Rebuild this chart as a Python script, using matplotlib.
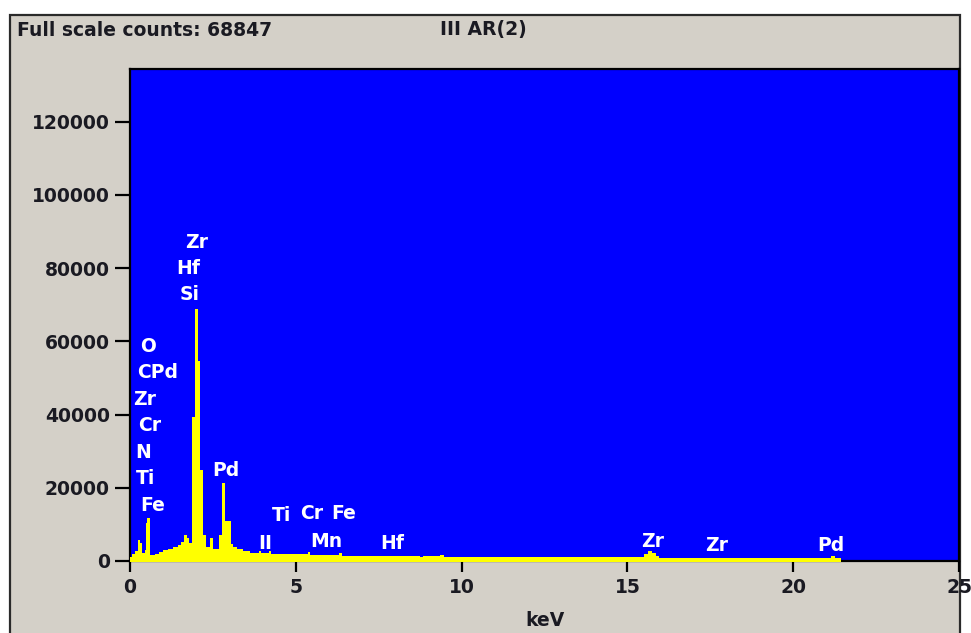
import matplotlib
matplotlib.use("Agg")
import matplotlib.pyplot as plt
from matplotlib.patches import Rectangle

kev = [0.00, 0.05, 0.15, 0.23, 0.30, 0.35, 0.45, 0.47, 0.50, 0.60,
       0.75, 0.88, 1.00, 1.15, 1.30, 1.45, 1.55, 1.64, 1.72, 1.78,
       1.88, 1.97, 2.04, 2.12, 2.20, 2.28, 2.42, 2.50, 2.68, 2.76,
       2.87, 3.05, 3.12, 3.22, 3.42, 3.62, 3.88, 3.94, 4.20, 4.26,
       4.45, 5.36, 5.44, 6.30, 6.38, 8.75, 8.85, 9.35, 9.48, 15.50,
       15.62, 15.75, 15.85, 15.95, 21.15, 21.25, 21.45]
counts = [1200, 2000, 2600, 5700, 4800, 2100, 3000, 10500, 11800, 1700,
          1900, 2400, 2900, 3300, 3700, 4400, 5300, 7000, 6200, 4800,
          39400, 68847, 54700, 24800, 7100, 3900, 6200, 3300, 7000, 21400,
          11000, 4600, 3900, 3200, 2600, 2300, 2800, 2100, 2700, 2000,
          1800, 2500, 1700, 2300, 1500, 1100, 1400, 1700, 1000, 1800,
          2600, 2300, 1500, 900, 1500, 900, 0]

# element labels (text, keV, counts)
labels = ["Zr", "Hf", "Si", "O", "CPd", "Zr", "Cr", "N", "Ti", "Fe",
          "Pd", "Ti", "Cr", "Fe", "II", "Mn", "Hf", "Zr", "Zr", "Pd"]
label_kev = [2.02, 1.75, 1.81, 0.54, 0.82, 0.45, 0.60, 0.39, 0.48, 0.69,
             2.90, 4.56, 5.47, 6.43, 4.08, 5.92, 7.90, 15.77, 17.70, 21.15]
label_cnt = [87100, 80000, 72900, 58600, 51500, 44100, 37000, 29600, 22500, 15100,
             24700, 12300, 12900, 12900, 4700, 5200, 4700, 5200, 4100, 4100]

xticks = [0, 5, 10, 15, 20, 25]
yticks = [0, 20000, 40000, 60000, 80000, 100000, 120000]

W, H = 971, 633
grey = "#d4d0c8"
ink = "#1a1a22"
plt.rcParams["font.family"] = "DejaVu Sans"
plt.rcParams["font.weight"] = "bold"

fig = plt.figure(figsize=(W / 100, H / 100), dpi=100, facecolor="white")
fig.patches.append(Rectangle((10 / W, -0.05), 950 / W, 1 - 15 / H + 0.05,
                             transform=fig.transFigure, facecolor=grey,
                             edgecolor="#2a2a2a", lw=1.6, zorder=-10))

ax = fig.add_axes([130 / W, 1 - 561 / H, (959 - 130) / W, (561 - 69) / H])
ax.set_facecolor("#0000ff")
ax.fill_between(kev, counts, y2=-250, step="post", color="#ffff00", lw=0,
                zorder=3, clip_on=False)

for t, x, y in zip(labels, label_kev, label_cnt):
    ax.text(x, y, t, color="white", fontsize=13.5, fontweight="bold",
            ha="center", va="center", zorder=4)

ax.set_xlim(0, 25)
ax.set_ylim(0, 134400)
ax.set_xticks(xticks)
ax.set_yticks(yticks)
ax.set_xticklabels([str(v) for v in xticks])
ax.set_yticklabels([str(v) for v in yticks])
ax.tick_params(axis="y", length=11, width=1.6, pad=3.5, labelsize=13.5,
               labelcolor=ink, color="black")
ax.tick_params(axis="x", length=8, width=1.6, pad=4, labelsize=13.5,
               labelcolor=ink, color="black")
for s in ax.spines.values():
    s.set_color("black")
    s.set_linewidth(1.6)

fig.text(17 / W, 1 - 30 / H, "Full scale counts: 68847", fontsize=13.5,
         fontweight="bold", color=ink, va="center", ha="left")
fig.text(440 / W, 1 - 30 / H, "III AR(2)", fontsize=13.5,
         fontweight="bold", color=ink, va="center", ha="left")
fig.text(544.5 / W, 1 - 620 / H, "keV", fontsize=13.5,
         fontweight="bold", color=ink, va="center", ha="center")

fig.savefig("out.png", dpi=100, facecolor="white")
